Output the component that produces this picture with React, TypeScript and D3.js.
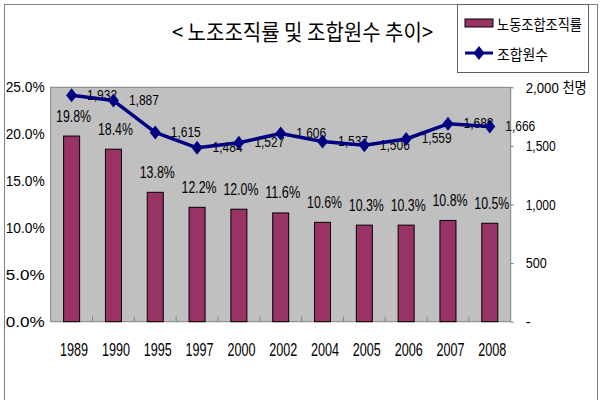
import { useEffect, useRef } from "react";
import * as d3 from "d3";

const YEARS = ["1989", "1990", "1995", "1997", "2000", "2002", "2004", "2005", "2006", "2007", "2008"];
const RATE = [19.8, 18.4, 13.8, 12.2, 12.0, 11.6, 10.6, 10.3, 10.3, 10.8, 10.5]; // %
const MEMBERS = [1932, 1887, 1615, 1484, 1527, 1606, 1537, 1506, 1559, 1688, 1666]; // 천명
const RATE_TICKS = [0, 5, 10, 15, 20, 25];
const MEMBER_TICKS = [0, 500, 1000, 1500, 2000];

const TITLE = "< 노조조직률 및 조합원수 추이>";
const BAR_NAME = "노동조합조직률";
const LINE_NAME = "조합원수";
const UNIT = "천명";

const BAR = "#993366";
const LINE = "#000080";
const PLOT_BG = "#C0C0C0";
const FONT = "'Liberation Sans', Arial, 'Noto Sans CJK KR', sans-serif";
const KFONT = "'Noto Sans CJK KR', sans-serif";

const diamond = "M0,-7L5.5,0L0,7L-5.5,0Z";

export default function App() {
  const ref = useRef<SVGSVGElement | null>(null);

  useEffect(() => {
    document.body.style.margin = "0";
    if (!ref.current) return;
    const svg = d3.select(ref.current);
    svg.selectAll("*").remove();

    const left = 50.7, right = 510.7, top = 87.3, bottom = 321.7;

    // outer chart border
    svg.append("rect")
      .attr("x", 4.5).attr("y", 4.5).attr("width", 593).attr("height", 420)
      .attr("fill", "#fff").attr("stroke", "#808080");

    const x = d3.scaleBand<string>().domain(YEARS).range([left, right])
      .paddingInner(0.617).paddingOuter(0.3085);
    const yL = d3.scaleLinear().domain([0, 25]).range([bottom, top]);
    const yR = d3.scaleLinear().domain([0, 2000]).range([bottom, top]);
    const cx = (d: string) => (x(d) ?? 0) + x.bandwidth() / 2;

    svg.append("rect")
      .attr("x", left).attr("y", top).attr("width", right - left).attr("height", bottom - top)
      .attr("fill", PLOT_BG).attr("stroke", "#808080");

    // category boundary ticks (inside)
    const gap = x.step() * x.paddingInner();
    svg.append("g").selectAll("line").data(YEARS.slice(1)).enter().append("line")
      .attr("x1", (d) => (x(d) ?? 0) - gap / 2).attr("x2", (d) => (x(d) ?? 0) - gap / 2)
      .attr("y1", bottom).attr("y2", bottom - 5)
      .attr("stroke", "#808080");

    // bars
    svg.append("g").selectAll("rect").data(RATE).enter().append("rect")
      .attr("x", (_, i) => x(YEARS[i]) ?? 0)
      .attr("y", (d) => yL(d))
      .attr("width", x.bandwidth())
      .attr("height", (d) => bottom - yL(d))
      .attr("fill", BAR).attr("stroke", "#000").attr("stroke-width", 1);

    // bar labels
    svg.append("g").selectAll("text").data(RATE).enter().append("text")
      .attr("x", (_, i) => cx(YEARS[i]) + 2)
      .attr("y", (d) => yL(d) - 20)
      .attr("text-anchor", "middle").attr("dominant-baseline", "central")
      .attr("font-family", FONT).attr("font-size", 16)
      .attr("textLength", 35).attr("lengthAdjust", "spacingAndGlyphs")
      .text((d) => d.toFixed(1) + "%");

    // left axis
    const axL = svg.append("g").attr("transform", `translate(${left},0)`)
      .call(d3.axisLeft(yL).tickValues(RATE_TICKS).tickSize(0).tickPadding(6)
        .tickFormat((d) => (+d).toFixed(1) + "%"));
    axL.select(".domain").remove();
    axL.selectAll("text")
      .attr("font-family", FONT).attr("font-size", 14.5).attr("fill", "#000")
      .attr("textLength", 39).attr("lengthAdjust", "spacingAndGlyphs");

    // right axis (top label carries the unit)
    const axR = svg.append("g").attr("transform", `translate(${right},0)`)
      .call(d3.axisRight(yR).tickValues(MEMBER_TICKS).tickSize(3).tickPadding(12)
        .tickFormat((d) => (+d === 0 ? "-" : +d === 2000 ? `${d3.format(",")(+d)} ${UNIT}` : d3.format(",")(+d))));
    axR.select(".domain").remove();
    axR.selectAll("line").attr("stroke", "#808080");
    axR.selectAll<SVGTextElement, number>("text")
      .attr("font-family", FONT).attr("font-size", 15).attr("fill", "#000")
      .each(function (d) {
        const s = d === 0 ? 0 : d === 2000 ? 61 : d >= 1000 ? 30 : 21;
        if (s) d3.select(this).attr("textLength", s).attr("lengthAdjust", "spacingAndGlyphs");
      });

    // bottom axis labels
    const axB = svg.append("g").attr("transform", `translate(0,${bottom})`)
      .call(d3.axisBottom(x).tickSize(0).tickPadding(21));
    axB.select(".domain").remove();
    axB.selectAll("text")
      .attr("font-family", FONT).attr("font-size", 19).attr("fill", "#000")
      .attr("dx", 2.5)
      .attr("textLength", 28).attr("lengthAdjust", "spacingAndGlyphs");

    // line labels (under the line)
    svg.append("g").selectAll("text").data(MEMBERS).enter().append("text")
      .attr("x", (_, i) => cx(YEARS[i]) + 15.5)
      .attr("y", (d) => yR(d) - 1)
      .attr("dominant-baseline", "central")
      .attr("font-family", FONT).attr("font-size", 15)
      .attr("textLength", 30).attr("lengthAdjust", "spacingAndGlyphs")
      .text((d) => d3.format(",")(d));

    // line + markers
    const line = d3.line<number>().x((_, i) => cx(YEARS[i])).y((d) => yR(d));
    svg.append("path").datum(MEMBERS)
      .attr("d", line).attr("fill", "none")
      .attr("stroke", LINE).attr("stroke-width", 3.5).attr("stroke-linejoin", "round");
    svg.append("g").selectAll("path").data(MEMBERS).enter().append("path")
      .attr("d", diamond)
      .attr("transform", (d, i) => `translate(${cx(YEARS[i])},${yR(d)})`)
      .attr("fill", LINE);

    // title
    svg.append("text")
      .attr("x", 172).attr("y", 30)
      .attr("dominant-baseline", "central")
      .attr("font-family", KFONT).attr("font-size", 22)
      .attr("textLength", 261).attr("lengthAdjust", "spacingAndGlyphs")
      .text(TITLE);

    // legend
    const lg = svg.append("g");
    lg.append("rect")
      .attr("x", 457.5).attr("y", 4.5).attr("width", 131).attr("height", 68)
      .attr("fill", "#fff").attr("stroke", "#606060");
    lg.append("rect")
      .attr("x", 465).attr("y", 19).attr("width", 28).attr("height", 8)
      .attr("fill", BAR).attr("stroke", "#000");
    lg.append("text")
      .attr("x", 497).attr("y", 23).attr("dominant-baseline", "central")
      .attr("font-family", KFONT).attr("font-size", 15)
      .attr("textLength", 85).attr("lengthAdjust", "spacingAndGlyphs")
      .text(BAR_NAME);
    lg.append("line")
      .attr("x1", 465).attr("x2", 493).attr("y1", 53).attr("y2", 53)
      .attr("stroke", LINE).attr("stroke-width", 3);
    lg.append("path").attr("d", diamond)
      .attr("transform", "translate(479,53)").attr("fill", LINE);
    lg.append("text")
      .attr("x", 497).attr("y", 53).attr("dominant-baseline", "central")
      .attr("font-family", KFONT).attr("font-size", 15)
      .attr("textLength", 51).attr("lengthAdjust", "spacingAndGlyphs")
      .text(LINE_NAME);
  }, []);

  return <svg ref={ref} width={600} height={400} style={{ display: "block" }} />;
}
